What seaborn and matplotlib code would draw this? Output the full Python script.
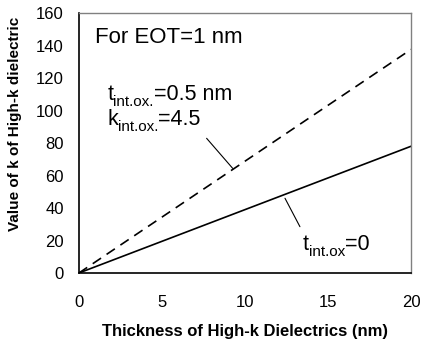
import matplotlib
matplotlib.use("Agg")
import matplotlib.pyplot as plt
import seaborn as sns
import pandas as pd

# data
thickness = [0, 20]
k_no_interlayer = [0, 78]
k_with_interlayer = [0, 137.6]

xticks = [0, 5, 10, 15, 20]
yticks = [0, 20, 40, 60, 80, 100, 120, 140, 160]

sns.set_theme(style="white")
plt.rcParams['font.family'] = ['Liberation Sans', 'DejaVu Sans']
plt.rcParams['text.color'] = 'black'
plt.rcParams['axes.labelcolor'] = 'black'
plt.rcParams['xtick.color'] = 'black'
plt.rcParams['ytick.color'] = 'black'

fig = plt.figure(figsize=(4.22, 3.48), dpi=100)
ax = fig.add_axes([0.187, 0.2155, 0.787, 0.7471])

df1 = pd.DataFrame({"t": thickness, "k": k_no_interlayer})
df2 = pd.DataFrame({"t": thickness, "k": k_with_interlayer})
sns.lineplot(data=df1, x="t", y="k", ax=ax, color="black", linewidth=1.2)
sns.lineplot(data=df2, x="t", y="k", ax=ax, color="black", linewidth=1.2,
             linestyle=(0, (6, 4)))

ax.set_xlim(0, 20)
ax.set_ylim(0, 160)
ax.set_xticks(xticks)
ax.set_yticks(yticks)
ax.tick_params(axis='both', direction='inout', length=8, width=1, colors='black',
               labelsize=12, pad=7)
ax.tick_params(axis='x', pad=12)
for s in ['left', 'bottom']:
    ax.spines[s].set_color('black')
    ax.spines[s].set_linewidth(1.2)
for s in ['top', 'right']:
    ax.spines[s].set_color('#808080')
    ax.spines[s].set_linewidth(1.0)

ax.set_xlabel("Thickness of High-k Dielectrics (nm)", fontsize=12, fontweight='bold',
              labelpad=10, color='black')
ax.set_ylabel("Value of k of High-k dielectric", fontsize=11, fontweight='bold', color='black')
ax.yaxis.set_label_coords(-0.172, 0.575)

ax.text(0.96, 141.5, "For EOT=1 nm", fontsize=16, va='baseline', ha='left', color='black')


def sub_label(x, y, base, sub, rest, size=15.5, subsize=11):
    t1 = ax.text(x, y, base, fontsize=size, va='baseline', ha='left', color='black')
    t2 = ax.annotate(sub, xy=(1, 0), xycoords=t1, xytext=(0, -2.6),
                     textcoords='offset points', fontsize=subsize,
                     va='bottom', ha='left', color='black')
    ax.annotate(rest, xy=(1, 0), xycoords=(t2, t1), fontsize=size,
                va='bottom', ha='left', color='black')


sub_label(1.7, 106.5, "t", "int.ox.", "=0.5 nm")
sub_label(1.7, 91.1, "k", "int.ox.", "=4.5")
sub_label(13.5, 14.2, "t", "int.ox", "=0")

ax.plot([7.69, 9.26], [82.9, 64.4], color='black', linewidth=0.8)
ax.plot([12.41, 13.31], [46.0, 28.5], color='black', linewidth=0.8)

fig.savefig("out.png", dpi=100)
